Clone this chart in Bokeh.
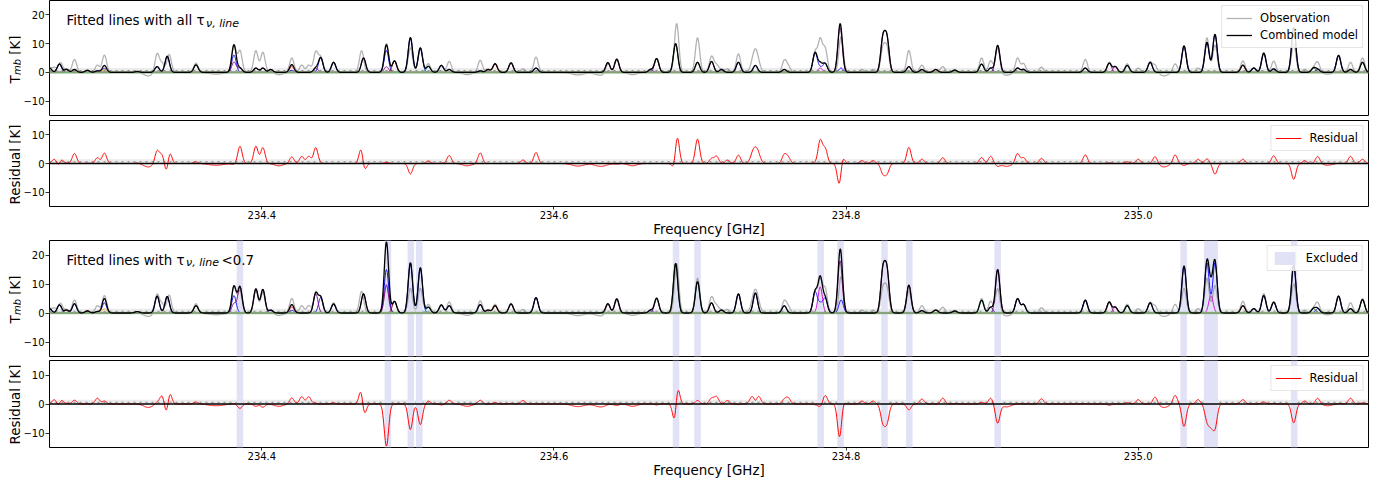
import numpy as np
from bokeh.plotting import figure
from bokeh.layouts import column, row
from bokeh.models import (Range1d, FixedTicker, CustomJSTickFormatter, Label,
                          BoxAnnotation, Span)
from bokeh.embed import file_html
from bokeh.resources import INLINE

# ---------------- data ----------------
FREQ_MIN = 234.2546
FREQ_MAX = 235.1577
X_TICKS = [234.4, 234.6, 234.8, 235.0]
Y_TICKS_SPEC = [-10, 0, 10, 20]
Y_TICKS_RES = [-10, 0, 10]

# observed spectrum: line centre [GHz], peak [K], gaussian sigma [GHz]
OBS_FREQ = [234.2546, 234.2580, 234.2621, 234.2662, 234.2717, 234.2805, 234.2874, 234.2922,
            234.3147, 234.3222, 234.3283, 234.3317, 234.3365, 234.3549, 234.3686, 234.3809,
            234.3850, 234.3959, 234.4007, 234.4061, 234.4116, 234.4205, 234.4273, 234.4321,
            234.4369, 234.4403, 234.4491, 234.4683, 234.4853, 234.4908, 234.5017, 234.5085,
            234.5140, 234.5229, 234.5283, 234.5406, 234.5495, 234.5549, 234.5597, 234.5706,
            234.5788, 234.5877, 234.6164, 234.6321, 234.6369, 234.6430, 234.6539, 234.6662,
            234.6703, 234.6840, 234.6983, 234.7079, 234.7113, 234.7147, 234.7188, 234.7263,
            234.7379, 234.7577, 234.7604, 234.7788, 234.7823, 234.7857, 234.7966, 234.8109,
            234.8184, 234.8252, 234.8280, 234.8430, 234.8519, 234.8614, 234.8662, 234.8744,
            234.8928, 234.8990, 234.9038, 234.9099, 234.9174, 234.9215, 234.9338, 234.9638,
            234.9802, 234.9843, 234.9925, 235.0000, 235.0082, 235.0116, 235.0177, 235.0253,
            235.0314, 235.0410, 235.0471, 235.0526, 235.0717, 235.0792, 235.0860, 235.0928,
            235.1065, 235.1140, 235.1201, 235.1229, 235.1297, 235.1372, 235.1454, 235.1536]
OBS_PEAK = [1.5, 1.6, 3.3, 1.2, 4.5, 0.8, 2.5, 6.0,
            0.5, -1.2, 6.5, 3.0, 6.2, 3.2, -0.6, 9.3,
            7.5, 7.5, 7.0, 1.0, -0.8, 5.0, 2.5, 2.5,
            7.0, 5.2, 3.5, 7.5, 10.0, 4.0, 8.5, 8.5,
            3.0, 2.5, 3.8, -0.8, 4.2, 1.0, 3.0, 3.3,
            1.2, 5.3, -0.9, -1.0, 3.4, 4.4, -0.8, 1.0,
            4.8, 17.0, 12.0, 5.5, 2.5, 1.0, 1.2, 6.4,
            8.2, 4.0, 2.0, 7.0, 11.0, 8.0, 12.5, 1.0,
            1.0, 8.0, 8.0, 7.6, 2.5, 1.0, 2.0, 0.8,
            5.0, 4.0, 8.5, -1.0, 5.0, 3.0, 1.8, 4.5,
            3.4, 2.0, 3.0, 1.5, 3.5, 2.5, -1.2, 3.0,
            8.5, 1.5, 12.0, 9.5, 4.0, 1.5, 6.7, 3.9,
            10.0, 1.0, 1.5, 3.5, -0.6, 6.0, 3.5, 5.0]
OBS_SIGMA = [0.0015, 0.0015, 0.0015, 0.0015, 0.0015, 0.0015, 0.0015, 0.0015,
             0.0015, 0.0030, 0.0015, 0.0015, 0.0015, 0.0015, 0.0050, 0.0015,
             0.0015, 0.0015, 0.0015, 0.0015, 0.0030, 0.0015, 0.0015, 0.0015,
             0.0015, 0.0015, 0.0015, 0.0015, 0.0015, 0.0015, 0.0015, 0.0015,
             0.0015, 0.0015, 0.0015, 0.0030, 0.0015, 0.0015, 0.0015, 0.0015,
             0.0015, 0.0015, 0.0040, 0.0040, 0.0015, 0.0015, 0.0030, 0.0015,
             0.0015, 0.0015, 0.0015, 0.0015, 0.0015, 0.0015, 0.0015, 0.0015,
             0.0022, 0.0015, 0.0015, 0.0015, 0.0015, 0.0015, 0.0015, 0.0015,
             0.0015, 0.0015, 0.0015, 0.0015, 0.0015, 0.0015, 0.0015, 0.0015,
             0.0015, 0.0015, 0.0015, 0.0030, 0.0015, 0.0015, 0.0015, 0.0015,
             0.0015, 0.0015, 0.0015, 0.0015, 0.0015, 0.0015, 0.0030, 0.0015,
             0.0015, 0.0015, 0.0015, 0.0015, 0.0015, 0.0015, 0.0015, 0.0015,
             0.0015, 0.0015, 0.0015, 0.0015, 0.0030, 0.0015, 0.0015, 0.0015]

# fitted lines: centre [GHz], species index, peak with all tau [K], peak with tau<0.7 [K]
LINE_FREQ = [234.2546, 234.2614, 234.2662, 234.2717, 234.2805, 234.2874, 234.2922, 234.2922,
             234.3147, 234.3283, 234.3352, 234.3549, 234.3809, 234.3809, 234.3850, 234.3959,
             234.4007, 234.4061, 234.4205, 234.4205, 234.4369, 234.4403, 234.4491, 234.4696,
             234.4853, 234.4853, 234.4908, 234.5017, 234.5085, 234.5140, 234.5229, 234.5283,
             234.5495, 234.5549, 234.5597, 234.5706, 234.5877, 234.6369, 234.6430, 234.6662,
             234.6703, 234.6833, 234.6983, 234.7079, 234.7147, 234.7263, 234.7379, 234.7577,
             234.7788, 234.7823, 234.7823, 234.7857, 234.7959, 234.7966, 234.8252, 234.8280,
             234.8430, 234.8519, 234.8614, 234.8744, 234.8928, 234.8990, 234.9038, 234.9174,
             234.9215, 234.9638, 234.9802, 234.9843, 234.9925, 235.0082, 235.0314, 235.0471,
             235.0498, 235.0526, 235.0717, 235.0792, 235.0860, 235.0928, 235.1065, 235.1201,
             235.1229, 235.1372, 235.1454, 235.1536]
LINE_SPECIES = [0, 0, 7, 0, 7, 0, 4, 0,
                0, 0, 0, 6, 0, 1, 1, 1,
                1, 0, 3, 0, 1, 0, 0, 1,
                0, 1, 7, 0, 0, 5, 0, 0,
                0, 3, 3, 1, 0, 1, 1, 0,
                1, 6, 6, 1, 0, 0, 0, 0,
                0, 2, 0, 0, 1, 0, 1, 1,
                1, 0, 3, 6, 5, 0, 1, 0,
                0, 0, 1, 2, 5, 0, 0, 0,
                2, 0, 3, 0, 0, 0, 0, 6,
                0, 0, 0, 6]
LINE_PEAK_ALL = [1.5, 2.9, 1.0, 1.0, 0.7, 0.5, 1.0, 1.4,
                 0.3, 2.0, 5.6, 2.6, 6.0, 3.6, 1.5, 1.5,
                 1.5, 1.0, 2.0, 0.7, 1.5, 5.1, 3.5, 5.0,
                 7.6, 2.0, 4.0, 12.1, 8.5, 2.1, 2.4, 1.0,
                 0.5, 1.0, 3.0, 3.3, 1.5, 3.4, 4.6, 1.0,
                 4.8, 10.0, 3.5, 3.8, 1.0, 3.5, 2.4, 1.0,
                 6.8, 1.5, 1.5, 3.0, 15.6, 1.5, 11.3, 11.3,
                 2.0, 1.0, 1.0, 0.8, 2.9, 1.5, 9.4, 1.5,
                 1.0, 1.5, 3.2, 2.0, 2.4, 3.5, 9.2, 10.4,
                 0.0, 13.2, 2.5, 1.5, 6.7, 1.2, 15.5, 1.5,
                 1.0, 5.9, 1.0, 3.5]
LINE_PEAK_THIN = [1.5, 2.8, 1.0, 3.2, 0.7, 0.5, 1.5, 3.5,
                  0.5, 5.8, 5.7, 2.5, 6.0, 3.2, 9.0, 8.3,
                  8.1, 1.0, 2.0, 0.9, 6.7, 5.3, 3.1, 6.6,
                  15.0, 9.5, 4.0, 17.3, 15.6, 2.0, 2.8, 2.5,
                  2.9, 1.0, 2.5, 3.1, 5.3, 3.2, 4.9, 1.0,
                  5.1, 17.1, 10.8, 3.5, 1.0, 6.6, 6.9, 2.5,
                  7.2, 9.0, 3.0, 5.0, 18.0, 4.5, 14.0, 14.0,
                  9.6, 0.8, 1.0, 0.7, 4.4, 2.0, 15.0, 4.9,
                  2.9, 4.4, 3.8, 2.0, 2.5, 3.5, 16.2, 17.3,
                  6.0, 17.3, 2.5, 1.5, 6.0, 3.7, 16.5, 1.5,
                  1.5, 5.8, 1.5, 4.6]
LINE_SIGMA = 0.0015
SPECIES_COLORS = ["#0000ff", "#800080", "#d000d0", "#ff0000",
                  "#ffa500", "#00b0b0", "#006400", "#8b0000"]

# excluded windows (tau >= 0.7): centre and full width [GHz]
EXCL_FREQ = [234.3850, 234.4863, 234.5020, 234.5078, 234.6836, 234.6983, 234.7826,
             234.7962, 234.8263, 234.8433, 234.9038, 235.0311, 235.0498, 235.1068]
EXCL_WIDTH = [0.0045, 0.0045, 0.0045, 0.0045, 0.0045, 0.0045, 0.0045,
              0.0045, 0.0045, 0.0045, 0.0045, 0.0045, 0.0096, 0.0045]

# ---------------- spectra ----------------
freq = np.linspace(FREQ_MIN, FREQ_MAX, 4000)


def gauss_sum(centers, peaks, sigmas):
    c = np.asarray(centers, float)[:, None]
    h = np.asarray(peaks, float)[:, None]
    s = np.asarray(sigmas, float)
    s = s[:, None] if s.ndim else s
    if c.size == 0:
        return np.zeros_like(freq)
    return (h * np.exp(-0.5 * ((freq[None, :] - c) / s) ** 2)).sum(axis=0)


obs = gauss_sum(OBS_FREQ, OBS_PEAK, OBS_SIGMA)
lf = np.array(LINE_FREQ)
ls = np.array(LINE_SPECIES)
pa = np.array(LINE_PEAK_ALL)
pt = np.array(LINE_PEAK_THIN)
comp_all = [gauss_sum(lf[ls == k], pa[ls == k], LINE_SIGMA) for k in range(len(SPECIES_COLORS))]
comp_thin = [gauss_sum(lf[ls == k], pt[ls == k], LINE_SIGMA) for k in range(len(SPECIES_COLORS))]
model_all = np.sum(comp_all, axis=0)
model_thin = np.sum(comp_thin, axis=0)
res_all = obs - model_all
res_thin = obs - model_thin

FONT = "DejaVu Sans"
LABEL_W = 20        # visible width of the y-title strip
STRIP_W = 120       # drawn width of the strip (overlapped by the panels)
PAGE_H = 480


def base_fig(height, top, bottom, ymin, ymax, yticks, xlabels):
    p = figure(width=1392 - LABEL_W, height=height, output_backend="svg",
               toolbar_location=None,
               x_range=Range1d(FREQ_MIN, FREQ_MAX), y_range=Range1d(ymin, ymax),
               min_border_left=45 - LABEL_W, min_border_right=24, min_border_top=top,
               min_border_bottom=bottom)
    p.grid.visible = False
    p.outline_line_color = "black"
    p.outline_line_width = 1
    p.outline_line_alpha = 1
    xa = p.xaxis[0]
    if xlabels:
        xa.ticker = FixedTicker(ticks=X_TICKS)
        xa.axis_line_color = None
        xa.minor_tick_line_color = None
        xa.major_tick_out = 3
        xa.major_tick_in = 0
        xa.major_tick_line_color = "black"
        xa.major_tick_line_width = 0.8
        xa.formatter = CustomJSTickFormatter(code="return tick.toFixed(1);")
        xa.major_label_text_font = FONT
        xa.major_label_text_font_size = "10px"
        xa.major_label_text_color = "black"
        xa.major_label_standoff = 1
        xa.axis_label = "Frequency [GHz]"
        xa.axis_label_text_font = FONT
        xa.axis_label_text_font_size = "13.4px"
        xa.axis_label_text_font_style = "normal"
        xa.axis_label_text_color = "black"
        xa.axis_label_standoff = 0
    else:
        xa.visible = False
    ya = p.yaxis[0]
    ya.ticker = FixedTicker(ticks=yticks)
    ya.formatter = CustomJSTickFormatter(
        code="return tick < 0 ? '\u2212' + Math.abs(tick).toFixed(0) : tick.toFixed(0);")
    ya.axis_line_color = None
    ya.minor_tick_line_color = None
    ya.major_tick_out = 4
    ya.major_tick_in = 0
    ya.major_tick_line_color = "black"
    ya.major_tick_line_width = 0.8
    ya.major_label_text_font = FONT
    ya.major_label_text_font_size = "10px"
    ya.major_label_text_color = "black"
    ya.major_label_standoff = 1
    return p


def add_text(p, text, x, y, size, style="normal", angle=0.0, align="left",
             baseline="alphabetic", units="screen"):
    p.add_layout(Label(x=x, y=y, x_units=units, y_units=units, text=text,
                       text_font=FONT, text_font_size=size, text_font_style=style,
                       angle=angle, text_align=align, text_baseline=baseline,
                       text_color="black"))


def ref_lines(p):
    p.add_layout(BoxAnnotation(bottom=0, top=1.5, fill_color="#d8d8d8", fill_alpha=0.5,
                               line_color=None, level="underlay"))
    p.add_layout(Span(location=0.6, dimension="width", line_color="gray",
                      line_dash="dotted", line_width=1, level="underlay"))


def spectrum_panel(p, comps, model):
    ref_lines(p)
    p.line(freq, obs, line_color="gray", line_alpha=0.6, line_width=1.3,
           legend_label="Observation")
    for k, comp in enumerate(comps):
        if np.any(comp > 0.05):
            p.line(freq, comp, line_color=SPECIES_COLORS[k], line_width=1, line_alpha=0.9)
    p.line([FREQ_MIN, FREQ_MAX], [0, 0], line_color="#8fbc8f", line_width=2.5, line_alpha=0.8)
    p.line(freq, model, line_color="black", line_width=1.3, legend_label="Combined model")


def residual_panel(p, res):
    ref_lines(p)
    p.line(freq, res, line_color="red", line_width=1, legend_label="Residual")
    p.add_layout(Span(location=0, dimension="width", line_color="black", line_width=1.5))


def style_legend(p):
    lg = p.legend[0]
    lg.location = "top_right"
    lg.margin = 5
    lg.padding = 4
    lg.spacing = 1
    lg.label_text_font = FONT
    lg.label_text_font_size = "11.5px"
    lg.label_text_color = "black"
    lg.glyph_width = 26
    lg.glyph_height = 16
    lg.label_height = 16
    lg.label_standoff = 8
    lg.border_line_color = "#cccccc"
    lg.border_line_width = 1
    lg.background_fill_alpha = 0.85


def exclusion_bands(p, legend):
    left = [c - w / 2 for c, w in zip(EXCL_FREQ, EXCL_WIDTH)]
    right = [c + w / 2 for c, w in zip(EXCL_FREQ, EXCL_WIDTH)]
    kw = dict(left=left, right=right, bottom=p.y_range.start, top=p.y_range.end,
              fill_color="#e2e2f7", fill_alpha=1.0, line_color=None)
    if legend:
        kw["legend_label"] = "Excluded"
    p.quad(**kw)


# panel 1: all tau
p1 = base_fig(119, 0, 4, -15, 25, Y_TICKS_SPEC, False)
spectrum_panel(p1, comp_all, model_all)
style_legend(p1)
add_text(p1, "Fitted lines with all \u03c4", 17, 95, "13.4px")
add_text(p1, "\u03bd, line", 156.5, 92.5, "11px", style="italic")

# panel 2: residual all tau
p2 = base_fig(120, 1, 32, -15, 15, Y_TICKS_RES, True)
residual_panel(p2, res_all)
style_legend(p2)

# panel 3: tau < 0.7
p3 = base_fig(120, 1, 3, -15, 25, Y_TICKS_SPEC, False)
exclusion_bands(p3, True)
spectrum_panel(p3, comp_thin, model_thin)
style_legend(p3)
p3.legend[0].items = [it for it in p3.legend[0].items if it.label.value == "Excluded"]
add_text(p3, "Fitted lines with \u03c4", 17, 96.5, "13.4px")
add_text(p3, "\u03bd, line", 136.5, 94, "11px", style="italic")
add_text(p3, "<0.7", 172, 96.5, "13.4px")

# panel 4: residual tau < 0.7
p4 = base_fig(121, 1, 33, -15, 15, Y_TICKS_RES, True)
exclusion_bands(p4, False)
residual_panel(p4, res_thin)
style_legend(p4)

# strip on the left holding the y-axis titles (page pixel coordinates);
# only its first LABEL_W pixels stay visible, the panels overlap the rest
lab = figure(width=STRIP_W, height=PAGE_H, output_backend="svg", toolbar_location=None,
             x_range=Range1d(0, STRIP_W), y_range=Range1d(0, PAGE_H),
             x_axis_type=None, y_axis_type=None, min_border=0)
lab.outline_line_color = None
lab.grid.visible = False
lab.background_fill_color = None
lab.border_fill_color = None
lab.margin = (0, LABEL_W - STRIP_W, 0, 0)


def tmb_label(y_bottom):
    y = PAGE_H - y_bottom
    add_text(lab, "T", 14.5, y, "13.4px", angle=np.pi / 2, units="data")
    add_text(lab, "mb", 16.8, y + 8.4, "10px", style="italic", angle=np.pi / 2, units="data")
    add_text(lab, "[K]", 14.5, y + 28.8, "13.4px", angle=np.pi / 2, units="data")


tmb_label(83)
tmb_label(323)
add_text(lab, "Residual [K]", 14.5, PAGE_H - 204, "13.4px", angle=np.pi / 2,
         align="left", units="data")
add_text(lab, "Residual [K]", 14.5, PAGE_H - 444, "13.4px", angle=np.pi / 2,
         align="left", units="data")

layout = row(lab, column(p1, p2, p3, p4, spacing=0), spacing=0)
open("out.html", "w").write(file_html(layout, INLINE))
